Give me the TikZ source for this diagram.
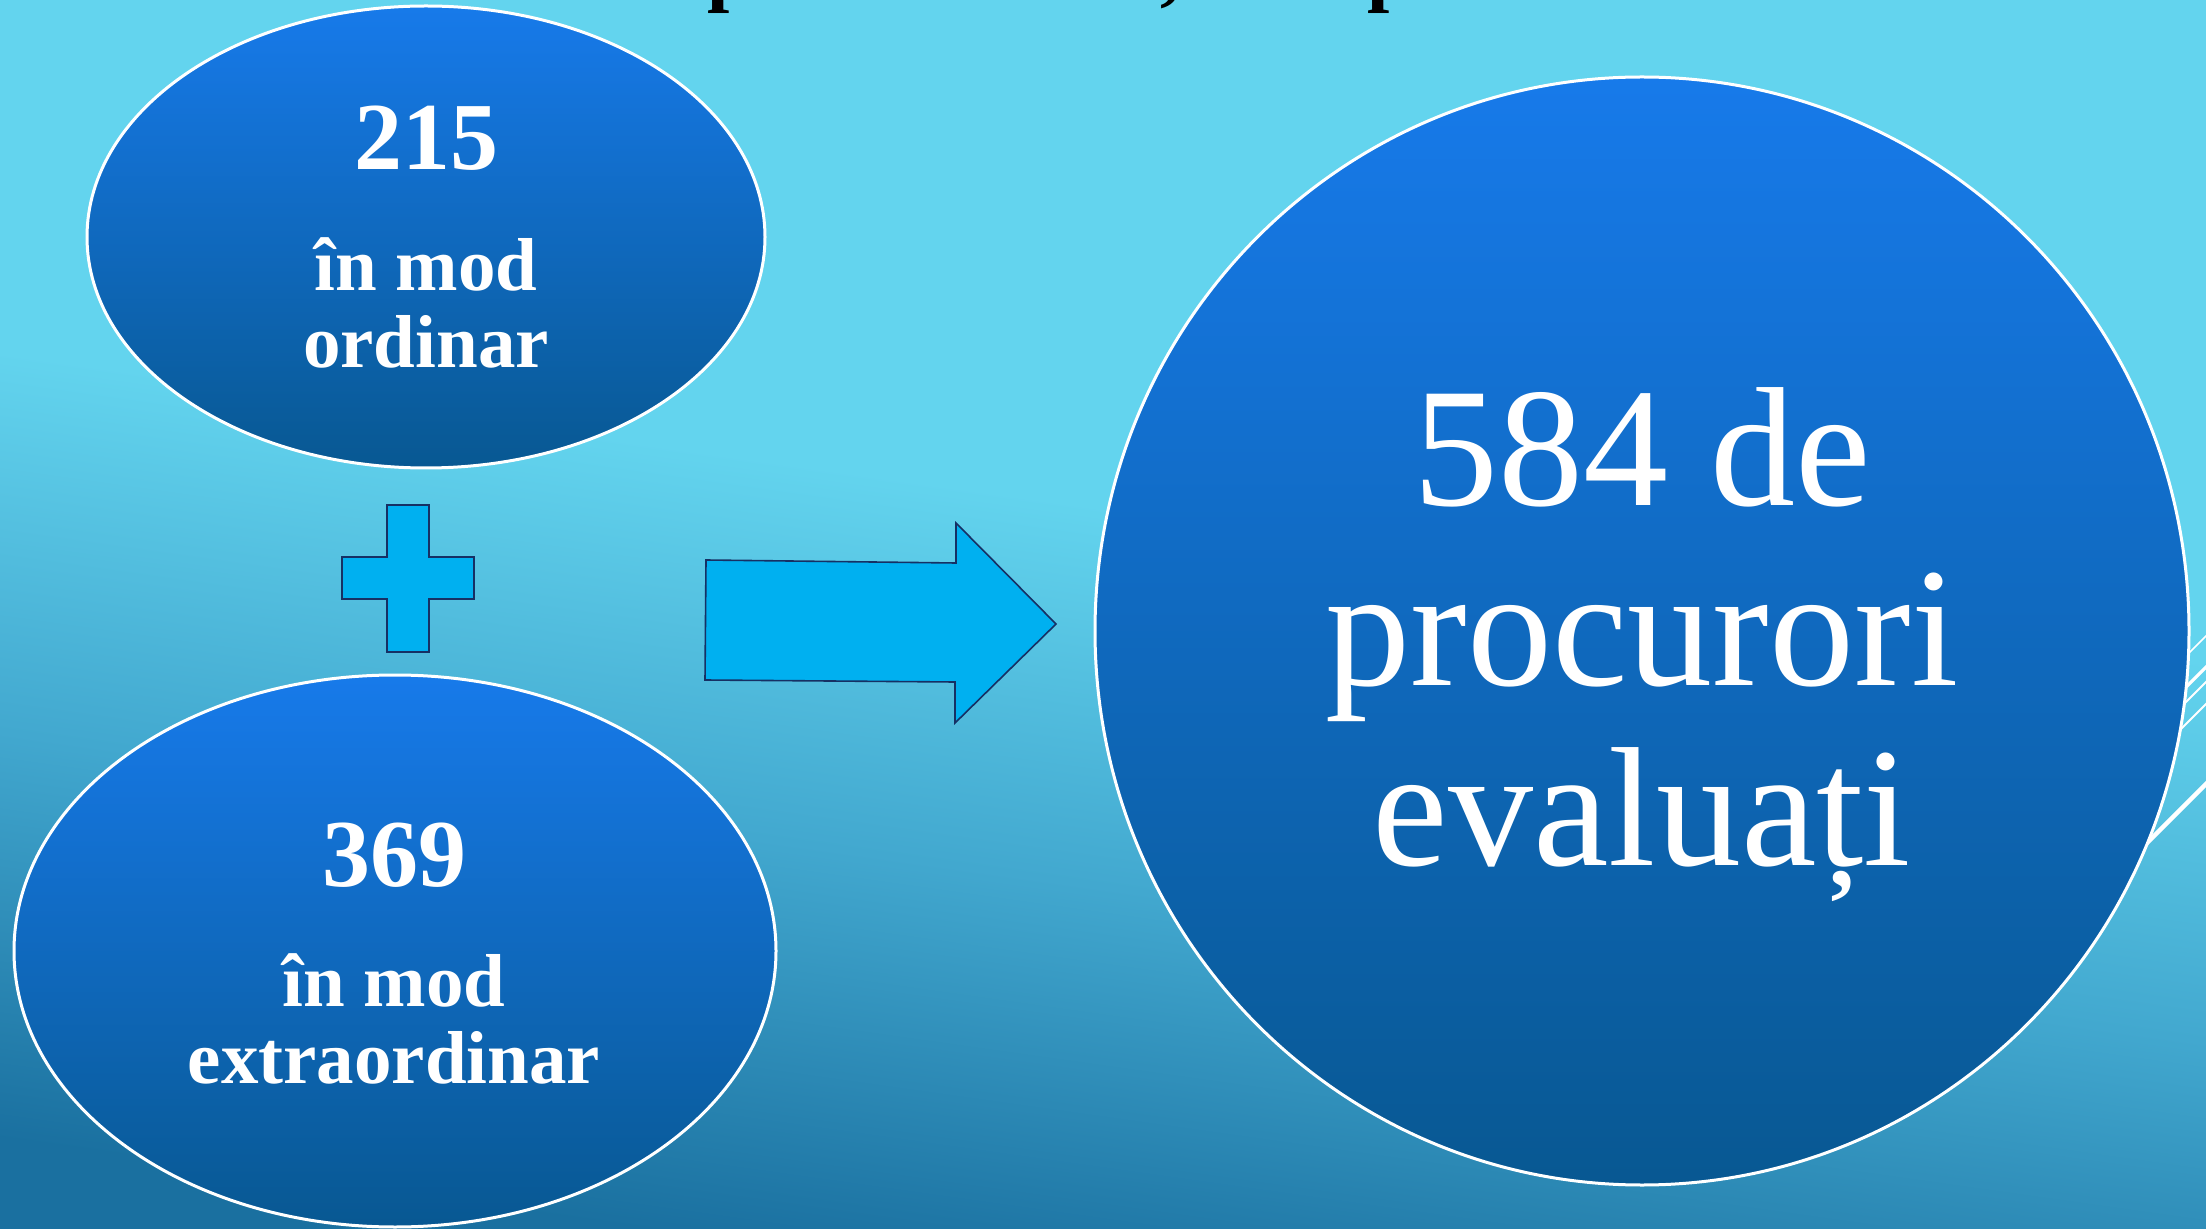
\documentclass[tikz,border=0pt]{standalone}
\usepackage{fontspec}
\setmainfont{Liberation Serif}
\usetikzlibrary{shapes.geometric}

\definecolor{bgtop}{RGB}{99,212,238}
\definecolor{bgmid}{RGB}{66,168,207}
\definecolor{bgbot}{RGB}{26,112,160}
\definecolor{blobtop}{RGB}{23,122,234}
\definecolor{blobbot}{RGB}{8,88,146}
\definecolor{arrowfill}{RGB}{0,176,240}
\definecolor{arrowline}{RGB}{22,48,100}

\pgfdeclareverticalshading{slidebg}{100bp}{color(0bp)=(bgbot); color(25bp)=(bgbot); color(40bp)=(bgmid); color(54bp)=(bgtop); color(100bp)=(bgtop)}

\tikzset{
  blob/.style={ellipse, draw=white, line width=1.5pt, top color=blobtop, bottom color=blobbot, inner sep=0pt},
  numtext/.style={text=white, inner sep=0pt, font=\bfseries\fontsize{48}{50}\selectfont},
  wordtext/.style={text=white, inner sep=0pt, align=center, font=\bfseries\fontsize{37.5}{38.5}\selectfont},
  bigtext/.style={text=white, inner sep=0pt, align=center, font=\fontsize{85}{90}\selectfont},
  titletext/.style={text=black, inner sep=0pt, font=\bfseries\fontsize{40}{44}\selectfont},
  shapeline/.style={draw=arrowline, fill=arrowfill, line width=0.8pt, line join=miter}
}

\begin{document}
\begin{tikzpicture}[x=0.5pt, y=-0.5pt]
  \useasboundingbox (0,0) rectangle (2206,1229);
  \shade[shading=slidebg, shading angle=-8] (0,0) rectangle (2206,1229);

  \begin{scope}
    \clip (0,0) rectangle (2206,1229);
    % ends of the title line above
    \node[titletext, anchor=base west] (tp1) at (707,-3) {p};
    \node[titletext, anchor=base west] (tc) at (1160,-3) {,};
    \node[titletext, anchor=base west] (tp2) at (1367,-3) {p};
    % lines at the right edge
    \draw[white, line width=0.75pt] (2100,742) -- (2300,542);
    \draw[white, line width=1.6pt] (2100,773) -- (2300,573);
    \draw[white, line width=1pt] (2100,788) -- (2300,588);
    \draw[white, line width=1pt] (2100,810) -- (2300,610);
    \draw[white, line width=2.2pt] (2100,890) -- (2300,690);
  \end{scope}

  % the two parts
  \node[blob, minimum width=339pt, minimum height=231pt] (ordin) at (426,237) {};
  \node[numtext, anchor=base] (n215) at (426,170) {215};
  \node[wordtext, anchor=base] (w215) at (426,368) {în mod\\ordinar};

  \node[blob, minimum width=381pt, minimum height=276pt] (extra) at (395,951) {};
  \node[numtext, anchor=base] (n369) at (394,886) {369};
  \node[wordtext, anchor=base] (w369) at (394,1083) {în mod\\extraordinar};

  % plus
  \draw[shapeline] (387,505) -- (429,505) -- (429,557) -- (474,557) -- (474,599)
    -- (429,599) -- (429,652) -- (387,652) -- (387,599) -- (342,599) -- (342,557)
    -- (387,557) -- cycle;

  % arrow
  \draw[shapeline] (706,560) -- (956,563) -- (956,523) -- (1056,624) -- (955,723)
    -- (955,682) -- (705,680) -- cycle;

  % the total
  \node[blob, minimum width=547pt, minimum height=554pt] (total) at (1642,631) {};
  \node[bigtext, anchor=base] (t584) at (1642,865) {584 de\\procurori\\evaluați};
\end{tikzpicture}
\end{document}
